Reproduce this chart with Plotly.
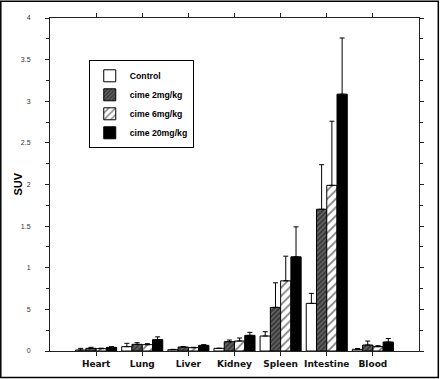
import plotly.graph_objects as go

categories = ["Heart", "Lung", "Liver", "Kidney", "Spleen", "Intestine", "Blood"]
series_names = ["Control", "cime 2mg/kg", "cime 6mg/kg", "cime 20mg/kg"]

control = [0.012, 0.052, 0.016, 0.032, 0.18, 0.572, 0.02]
control_err = [0.02, 0.04, 0.004, 0.0, 0.052, 0.12, 0.01]

cime2 = [0.032, 0.08, 0.048, 0.112, 0.524, 1.703, 0.072]
cime2_err = [0.012, 0.02, 0.006, 0.02, 0.295, 0.535, 0.048]

cime6 = [0.028, 0.076, 0.04, 0.12, 0.843, 1.99, 0.052]
cime6_err = [0.006, 0.012, 0.004, 0.036, 0.296, 0.77, 0.012]

cime20 = [0.044, 0.136, 0.068, 0.188, 1.131, 3.085, 0.108]
cime20_err = [0.008, 0.034, 0.008, 0.036, 0.36, 0.675, 0.042]

y_tickvals = [0, 0.5, 1, 1.5, 2, 2.5, 3, 3.5, 4]
y_ticktext = ["0", "5", "1", "1.5", "2", "2.5", "3", "3.5", "4"]

values = [control, cime2, cime6, cime20]
errors = [control_err, cime2_err, cime6_err, cime20_err]
xpos = list(range(len(categories)))

styles = [
    dict(color="white"),
    dict(color="#666666", pattern=dict(shape="/", fgcolor="#000000", bgcolor="#666666", size=3.5, solidity=0.5)),
    dict(color="white", pattern=dict(shape="/", fgcolor="#000000", bgcolor="white", size=6, solidity=0.3)),
    dict(color="black"),
]

fig = go.Figure()
for name, vals, errs, st in zip(series_names, values, errors, styles):
    marker = dict(line=dict(color="black", width=1), **st)
    fig.add_trace(go.Bar(
        x=xpos, y=vals, name=name, marker=marker,
        error_y=dict(type="data", array=errs, arrayminus=[0] * len(errs), symmetric=False,
                     color="black", thickness=1, width=2.5),
    ))

fig.update_layout(
    width=440, height=379,
    margin=dict(l=50, r=21, t=17.5, b=28, autoexpand=False),
    paper_bgcolor="white", plot_bgcolor="white",
    barmode="group", bargap=0.11, bargroupgap=0,
    showlegend=True,
    legend=dict(
        x=0.105, y=0.873, xanchor="left", yanchor="top",
        bordercolor="black", borderwidth=1, bgcolor="white",
        font=dict(family="Liberation Sans", size=8.7, weight="bold", color="black"),
    ),
    xaxis=dict(
        range=[-1, 7], tickvals=xpos, ticktext=categories,
        showline=True, linecolor="#222", linewidth=1, mirror="ticks",
        ticks="outside", ticklen=4, tickcolor="#222", showgrid=False, zeroline=False,
        tickfont=dict(family="DejaVu Sans", size=9, weight="bold", color="#111"),
    ),
    yaxis=dict(
        range=[0, 4], tickvals=y_tickvals, ticktext=y_ticktext,
        showline=True, linecolor="#222", linewidth=1, mirror="ticks",
        ticks="outside", ticklen=4, tickcolor="#222", showgrid=False, zeroline=False,
        minor=dict(dtick=0.25, tick0=0, ticks="outside", ticklen=3, tickcolor="#222", showgrid=False),
        ticklabelstandoff=13,
        tickfont=dict(family="Liberation Sans", size=7, color="#333"),
    ),
    annotations=[dict(text="<b>SUV</b>", xref="paper", yref="paper",
                      x=(17 - 50) / 369, y=0.5, textangle=-90, showarrow=False,
                      xanchor="center", yanchor="middle",
                      font=dict(family="Liberation Sans", size=11, color="black"))],
    shapes=[dict(type="rect", xref="paper", yref="paper",
                 x0=(0.8 - 50) / 369, x1=(438.3 - 50) / 369,
                 y0=(351 - 377.6) / 333.5, y1=(351 - 0.8) / 333.5,
                 line=dict(color="black", width=1.5), fillcolor="rgba(0,0,0,0)")],
)

fig.write_html("out.html", config={"displayModeBar": False},
               post_script="document.body.style.margin='0px';")
